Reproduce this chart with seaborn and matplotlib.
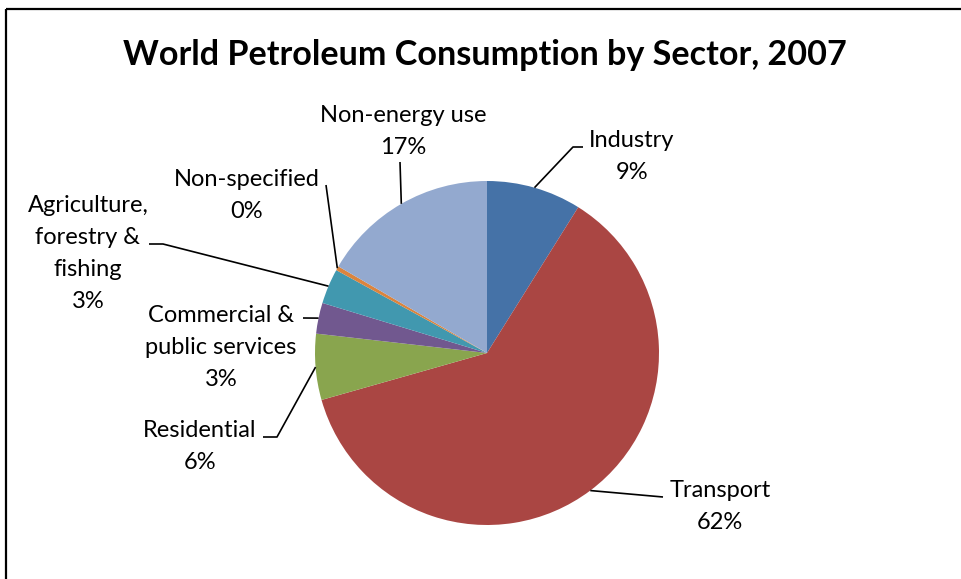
import numpy as np
import matplotlib
matplotlib.use("Agg")
import matplotlib.pyplot as plt
import seaborn as sns

# World petroleum consumption shares by sector, 2007 (percent)
sectors = ["Industry", "Transport", "Residential", "Commercial &\npublic services",
           "Agriculture,\nforestry &\nfishing", "Non-specified", "Non-energy use"]
shares = [8.9, 61.7, 6.2, 2.9, 3.3, 0.4, 16.6]
colors = ["#4572A7", "#AA4643", "#89A54E", "#71588F", "#4198AF", "#DB843D", "#93A9CF"]
title = "World Petroleum Consumption by Sector, 2007"

sns.set_theme(style="white")
plt.rcParams["font.family"] = ["Lato", "DejaVu Sans"]

W, H = 962, 579
fig = plt.figure(figsize=(W / 100, H / 100), dpi=100)
ax = fig.add_axes([0, 0, 1, 1])


def up(y):
    # convert a top-down pixel row into the axis' bottom-up coordinate
    return H - y


cx, cy, r = 487, 353, 172
palette = sns.color_palette(colors)
wedges, _ = ax.pie(shares, colors=palette, startangle=90, counterclock=False,
                   center=(cx, up(cy)), radius=r,
                   wedgeprops=dict(linewidth=0, antialiased=True))
ax.set_xlim(0, W)
ax.set_ylim(0, H)
ax.set_aspect("auto")
ax.axis("off")

# label layout: (text center x, first baseline y, leader path after the arc point)
layout = {
    "Industry": (632, 147, [(573, 147), (583, 147)]),
    "Transport": (720, 497, [(663, 497)]),
    "Residential": (200, 437, [(277, 437), (263, 437)]),
    "Commercial &\npublic services": (221, 322, [(303, 318)]),
    "Agriculture,\nforestry &\nfishing": (88, 212, [(163, 244), (149, 244)]),
    "Non-specified": (247, 186, [(326, 185)]),
    "Non-energy use": (403, 122, [(400, 162)]),
}
line_gap = 32
fs = 17

for w, name, val in zip(wedges, sectors, shares):
    mid = np.deg2rad((w.theta1 + w.theta2) / 2)
    ax_x = cx + r * np.cos(mid)
    ax_y = up(cy) + r * np.sin(mid)
    tx, ty, path = layout[name]
    xs = [ax_x] + [p[0] for p in path]
    ys = [ax_y] + [up(p[1]) for p in path]
    ax.plot(xs, ys, color="black", lw=1.2, solid_capstyle="butt")
    lines = name.split("\n") + [f"{val:.0f}%"]
    for i, ln in enumerate(lines):
        ax.text(tx, up(ty + i * line_gap), ln, ha="center", va="baseline",
                fontsize=fs, color="black")

ax.text(485, up(65), title, ha="center", va="baseline", fontsize=24.6,
        fontweight="bold", color="black")

# chart frame edges
ax.plot([6, 6], [0, up(8.5)], color="black", lw=1.6, solid_capstyle="butt")
ax.plot([6, W], [up(8.5), up(8.5)], color="black", lw=1.6, solid_capstyle="butt")

fig.savefig("out.png", dpi=100)
